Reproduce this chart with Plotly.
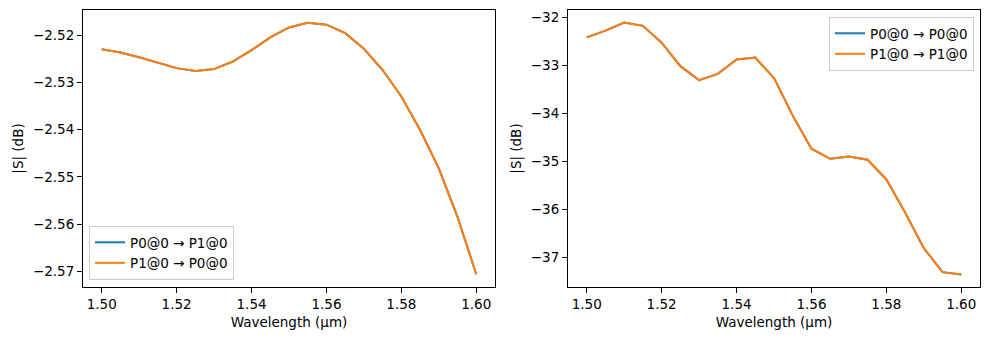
import plotly.graph_objects as go

wavelength = [1.500, 1.505, 1.510, 1.515, 1.520, 1.525, 1.530, 1.535, 1.540, 1.545,
              1.550, 1.555, 1.560, 1.565, 1.570, 1.575, 1.580, 1.585, 1.590, 1.595, 1.600]

s21_db = [-2.5230, -2.5237, -2.5247, -2.5258, -2.5270, -2.5276, -2.5272, -2.5256, -2.5232, -2.5205,
          -2.5184, -2.5174, -2.5178, -2.5196, -2.5229, -2.5274, -2.5330, -2.5401, -2.5482, -2.5585, -2.5706]
s12_db = list(s21_db)

s11_db = [-32.41, -32.27, -32.10, -32.17, -32.52, -33.01, -33.30, -33.17, -32.87, -32.83,
          -33.26, -34.04, -34.73, -34.94, -34.89, -34.96, -35.37, -36.06, -36.80, -37.30, -37.35]
s22_db = list(s11_db)

x_ticks = [1.50, 1.52, 1.54, 1.56, 1.58, 1.60]
left_y_ticks = [-2.52, -2.53, -2.54, -2.55, -2.56, -2.57]
right_y_ticks = [-32, -33, -34, -35, -36, -37]

BLUE = "#1f77b4"
ORANGE = "#ff7f0e"
FONT = "DejaVu Sans"

fig = go.Figure()
fig.add_trace(go.Scatter(x=wavelength, y=s21_db, mode="lines", name="P0@0 → P1@0",
                         line=dict(color=BLUE, width=2), xaxis="x", yaxis="y", legend="legend"))
fig.add_trace(go.Scatter(x=wavelength, y=s12_db, mode="lines", name="P1@0 → P0@0",
                         line=dict(color=ORANGE, width=2), xaxis="x", yaxis="y", legend="legend"))
fig.add_trace(go.Scatter(x=wavelength, y=s11_db, mode="lines", name="P0@0 → P0@0",
                         line=dict(color=BLUE, width=2), xaxis="x2", yaxis="y2", legend="legend2"))
fig.add_trace(go.Scatter(x=wavelength, y=s22_db, mode="lines", name="P1@0 → P1@0",
                         line=dict(color=ORANGE, width=2), xaxis="x2", yaxis="y2", legend="legend2"))

axis_common = dict(showline=True, linecolor="black", linewidth=1, mirror=True,
                   ticks="outside", ticklen=5, tickcolor="black", tickwidth=1,
                   showgrid=False, zeroline=False, automargin=False,
                   tickfont=dict(family=FONT, size=13.5, color="black"))

# page body has an 8px margin, so the figure is sized/offset to compensate
W, H = 981, 332
ml, mr, mt, mb = 75, 9, 2, 53
pw = W - ml - mr
ph = H - mt - mb

xt = dict(text="Wavelength (µm)", font=dict(family=FONT, size=13.5), standoff=6)
yt = dict(text="|S| (dB)", font=dict(family=FONT, size=13.5), standoff=6)

fig.update_layout(
    width=W, height=H,
    margin=dict(l=ml, r=mr, t=mt, b=mb, autoexpand=False),
    paper_bgcolor="white", plot_bgcolor="white",
    font=dict(family=FONT, size=13.5, color="black"),
    xaxis=dict(domain=[0, 412 / pw], range=[1.495, 1.605], tickvals=x_ticks, tickformat=".2f",
               title=xt, anchor="y", **axis_common),
    yaxis=dict(domain=[0, 1], range=[-2.5733, -2.5147], tickvals=left_y_ticks, tickformat=".2f",
               title=yt, anchor="x", **axis_common),
    xaxis2=dict(domain=[(568 - 83) / pw, 1], range=[1.495, 1.605], tickvals=x_ticks, tickformat=".2f",
                title=xt, anchor="y2", **axis_common),
    yaxis2=dict(domain=[0, 1], range=[-37.61, -31.84], tickvals=right_y_ticks, tickformat="d",
                title=yt, anchor="x2", **axis_common),
    legend=dict(x=(89 - 83) / pw, y=(287 - 280) / ph, xanchor="left", yanchor="bottom",
                bgcolor="rgba(255,255,255,0.8)", bordercolor="#cccccc", borderwidth=1,
                font=dict(family=FONT, size=13.5), tracegroupgap=0),
    legend2=dict(x=(974 - 83) / pw, y=(287 - 17) / ph, xanchor="right", yanchor="top",
                 bgcolor="rgba(255,255,255,0.8)", bordercolor="#cccccc", borderwidth=1,
                 font=dict(family=FONT, size=13.5), tracegroupgap=0),
)

fig.write_html("out.html")
